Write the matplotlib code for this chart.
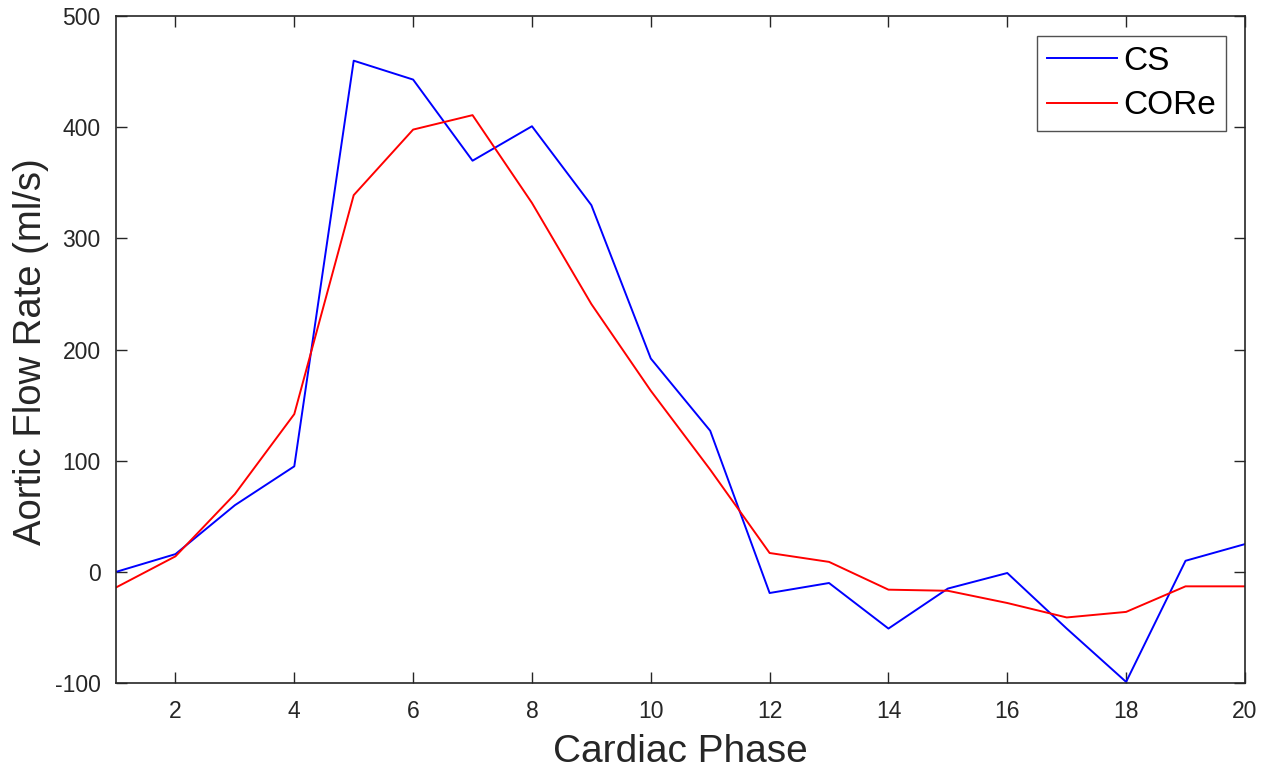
import matplotlib
matplotlib.use("Agg")
import matplotlib.pyplot as plt

phase = list(range(1, 21))
cs = [0, 16, 60, 95, 460, 443, 370, 401, 330, 192, 127, -19, -10, -51, -15, -1, -51, -99, 10, 25]
core = [-14, 14, 70, 142, 339, 398, 411, 332, 241, 163, 92, 17, 9, -16, -17, -28, -41, -36, -13, -13]

plt.rcParams['font.family'] = ['Liberation Sans', 'DejaVu Sans']
plt.rcParams['axes.unicode_minus'] = False

fig = plt.figure(figsize=(12.71, 7.73), dpi=100)
ax = fig.add_axes([0.0913, 0.1164, 0.8882, 0.8626])

ax.plot(phase, cs, color='#0000ff', lw=1.4, label='CS')
ax.plot(phase, core, color='#ff0000', lw=1.4, label='CORe')

ax.set_xlim(1, 20)
ax.set_ylim(-100, 500)
ax.set_xticks(range(2, 21, 2))
ax.set_yticks(range(-100, 501, 100))

gray = '#262626'
for s in ax.spines.values():
    s.set_color(gray)
    s.set_linewidth(1.2)
ax.tick_params(direction='in', length=8, width=1.0, colors=gray, labelsize=16.5,
               top=True, right=True)
ax.tick_params(axis='y', pad=11)
ax.tick_params(axis='x', pad=12)
ax.set_xlabel('Cardiac Phase', fontsize=28, color=gray, labelpad=8)
ax.set_ylabel('Aortic Flow Rate (ml/s)', fontsize=27.5, color=gray)
ax.yaxis.set_label_coords(-0.059, 0.497)

leg = ax.legend(loc='upper right', fontsize=24, frameon=True, fancybox=False,
                edgecolor=gray, borderpad=0.3, handlelength=2.1, handletextpad=0.2,
                labelspacing=0.4, borderaxespad=0, bbox_to_anchor=(0.9832, 0.9705))
leg.get_frame().set_linewidth(1.0)

fig.savefig('out.png', dpi=100, facecolor='white')
